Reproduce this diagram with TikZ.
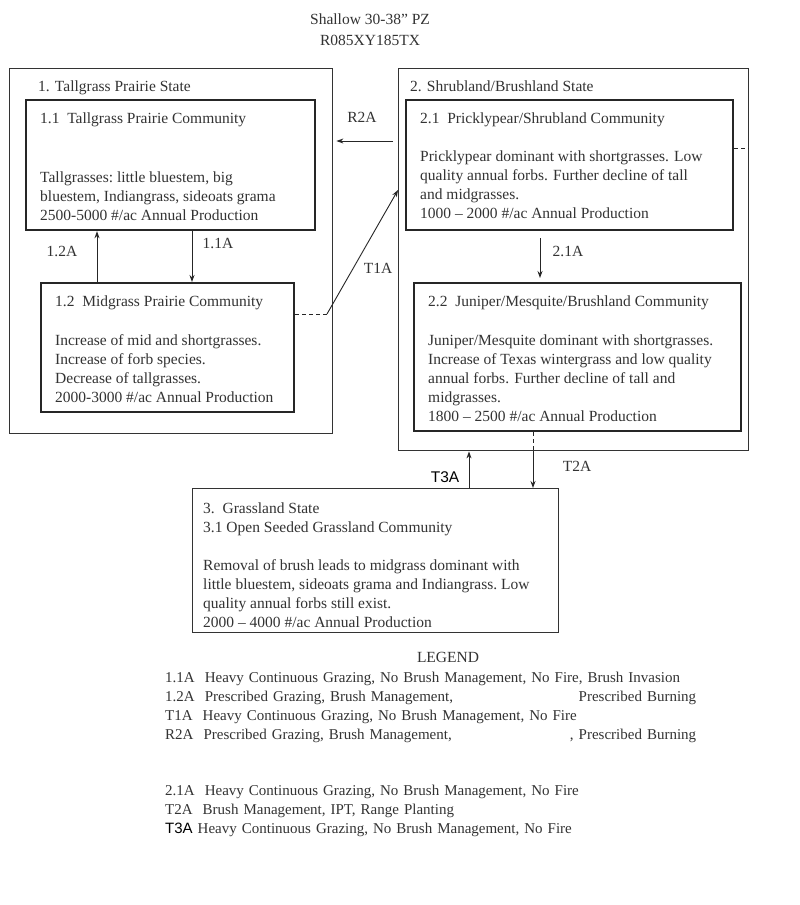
\documentclass[tikz,border=0pt]{standalone}
\usepackage{fontspec}
\setmainfont{Liberation Serif}
\newfontfamily\arialf{Liberation Sans}
\usetikzlibrary{arrows.meta}
\begin{document}
\begin{tikzpicture}[x=1pt,y=-1pt,
  statebox/.style={draw=black!80, line width=1.4pt, inner sep=0pt, anchor=north west},
  commbox/.style={draw=black!85, line width=2.2pt, inner sep=0pt, anchor=north west},
  txt/.style={anchor=north west, align=left, inner sep=0pt, yshift=-3.5pt, font=\fontsize{15.5}{19}\selectfont, text=black!80},
  lbl/.style={font=\fontsize{15.5}{19}\selectfont, inner sep=0pt, text=black!80},
  arr/.style={-{Stealth[length=7pt,width=5pt]}, line width=0.9pt, draw=black!85},
  dsh/.style={dashed, dash pattern=on 4pt off 3pt, line width=0.9pt, draw=black!85}
]
\useasboundingbox[fill=white] (0,0) rectangle (800,905);

% title
\node[lbl, align=center, anchor=north, font=\fontsize{15.5}{21}\selectfont] (title) at (370,14) {Shallow 30-38'' PZ\\R085XY185TX};

% state boxes
\node[statebox, minimum width=323pt, minimum height=365pt] (s1) at (9,68) {};
\node[statebox, minimum width=350pt, minimum height=382pt] (s2) at (398,68) {};
\node[statebox, minimum width=366pt, minimum height=144pt] (s3) at (192,488) {};

% community boxes
\node[commbox, minimum width=289pt, minimum height=130pt] (c11) at (25,99) {};
\node[commbox, minimum width=253pt, minimum height=129pt] (c12) at (40,282) {};
\node[commbox, minimum width=327pt, minimum height=130pt] (c21) at (405,99) {};
\node[commbox, minimum width=327pt, minimum height=148pt] (c22) at (413,282) {};

% texts
\node[txt] (t1) at (38,77) {1. Tallgrass Prairie State};
\node[txt] (t11h) at (40,109) {1.1\ \ Tallgrass Prairie Community};
\node[txt] (t11b) at (40,168) {Tallgrasses:\ little bluestem, big\\bluestem, Indiangrass, sideoats grama\\2500-5000 \#/ac Annual Production};
\node[txt] (t12h) at (55,292) {1.2\ \ Midgrass Prairie Community};
\node[txt] (t12b) at (55,331) {Increase of mid and shortgrasses.\\Increase of forb species.\\Decrease of tallgrasses.\\2000-3000 \#/ac Annual Production};

\node[txt] (t2) at (410,77) {2. Shrubland/Brushland State};
\node[txt] (t21h) at (420,109) {2.1\ \ Pricklypear/Shrubland Community};
\node[txt] (t21b) at (420,147) {Pricklypear dominant with shortgrasses. Low\\quality annual forbs. Further decline of tall\\and midgrasses.\\1000 -- 2000 \#/ac Annual Production};
\node[txt] (t22h) at (428,292) {2.2\ \ Juniper/Mesquite/Brushland Community};
\node[txt] (t22b) at (428,331) {Juniper/Mesquite dominant with shortgrasses.\\Increase of Texas wintergrass and low quality\\annual forbs. Further decline of tall and\\midgrasses.\\1800 -- 2500 \#/ac Annual Production};

\node[txt] (t3) at (203,499) {3.\ \ Grassland State\\3.1 Open Seeded Grassland Community\\[19pt]Removal of brush leads to midgrass dominant with\\little bluestem, sideoats grama and Indiangrass.\ Low\\quality annual forbs still exist.\\2000 -- 4000 \#/ac Annual Production};

% helper coordinates
\coordinate (xa11) at (192,0);
\coordinate (xa12) at (97,0);
\coordinate (yr2) at (0,141);
\coordinate (yt1) at (0,314);
\coordinate (t1bend) at (327,314);
\coordinate (yt1end) at (0,190);
\coordinate (xa21) at (540,0);
\coordinate (xt2) at (533,0);
\coordinate (xt3) at (469,0);
\coordinate (yd) at (0,148);

% connectors
\draw[arr] (c11.south -| xa11) -- (c12.north -| xa11);
\draw[arr] (c12.north -| xa12) -- (c11.south -| xa12);
\draw[arr, shorten <=5pt, shorten >=3pt] (s2.west |- yr2) -- (s1.east |- yr2);
\draw[dsh] (c12.east |- yt1) -- (t1bend);
\draw[arr] (t1bend) -- (s2.west |- yt1end);
\draw[arr, shorten <=7pt, shorten >=4pt] (c21.south -| xa21) -- (c22.north -| xa21);
\draw[dsh] (c22.south -| xt2) -- (s2.south -| xt2);
\draw[arr] (s2.south -| xt2) -- (s3.north -| xt2);
\draw[arr] (s3.north -| xt3) -- (s2.south -| xt3);
\draw[dsh] (c21.east |- yd) -- (s2.east |- yd);

% connector labels
\node[lbl] (l11) at (218,243) {1.1A};
\node[lbl] (l12) at (62,251) {1.2A};
\node[lbl] (lr2) at (362,117) {R2A};
\node[lbl] (lt1) at (378,268) {T1A};
\node[lbl] (l21) at (568,251) {2.1A};
\node[lbl] (lt2) at (577,466) {T2A};
\node[lbl, font=\arialf\fontsize{15.5}{19}\selectfont, text=black] (lt3) at (445,477) {T3A};

% legend
\node[lbl] (leg) at (448,657) {LEGEND};
\node[txt, text width=531pt, font=\fontsize{15}{19}\selectfont] (legtxt) at (165,668) {\mbox{1.1A\ \ Heavy Continuous Grazing, No Brush Management, No Fire, Brush Invasion}\\
1.2A\ \ Prescribed Grazing, Brush Management,\hfill Prescribed Burning\\
T1A\ \ Heavy Continuous Grazing, No Brush Management, No Fire\\
R2A\ \ Prescribed Grazing, Brush Management,\hfill , Prescribed Burning\\[37pt]
2.1A\ \ Heavy Continuous Grazing, No Brush Management, No Fire\\
T2A\ \ Brush Management, IPT, Range Planting\\
{\arialf\color{black}T3A} Heavy Continuous Grazing, No Brush Management, No Fire};
\end{tikzpicture}
\end{document}
